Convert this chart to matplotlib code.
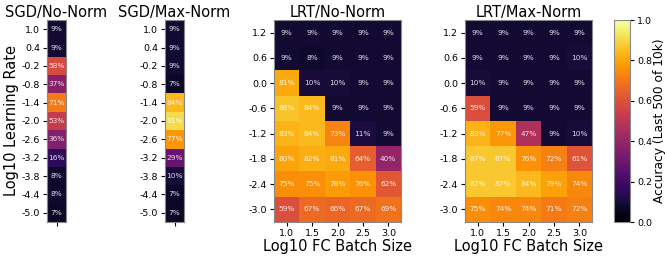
import numpy as np
import matplotlib
matplotlib.use("Agg")
from matplotlib import pyplot as plt

sgd_lr = [1.0, 0.4, -0.2, -0.8, -1.4, -2.0, -2.6, -3.2, -3.8, -4.4, -5.0]
sgd_no_norm = [9, 9, 58, 37, 71, 53, 36, 16, 8, 8, 7]
sgd_max_norm = [9, 9, 9, 7, 84, 91, 77, 29, 10, 7, 7]

lrt_lr = [1.2, 0.6, 0.0, -0.6, -1.2, -1.8, -2.4, -3.0]
batch = [1.0, 1.5, 2.0, 2.5, 3.0]
lrt_no_norm = [
    [9, 9, 9, 9, 9],
    [9, 8, 9, 9, 9],
    [81, 10, 10, 9, 9],
    [86, 84, 9, 9, 9],
    [83, 84, 73, 11, 9],
    [80, 82, 81, 64, 40],
    [75, 75, 78, 76, 62],
    [59, 67, 66, 67, 69],
]
lrt_max_norm = [
    [9, 9, 9, 9, 9],
    [9, 9, 9, 9, 10],
    [10, 9, 9, 9, 9],
    [59, 9, 9, 9, 9],
    [83, 77, 47, 9, 10],
    [87, 87, 76, 72, 61],
    [87, 87, 84, 79, 74],
    [75, 74, 74, 71, 72],
]

W, H = 665, 258
fig = plt.figure(figsize=(W / 100, H / 100), dpi=100)


def ax_at(x0, x1, y0, y1):
    return fig.add_axes([x0 / W, 1 - y1 / H, (x1 - x0) / W, (y1 - y0) / H])


def heat(ax, data, rows, cols, title):
    data = np.array(data, dtype=float)
    im = ax.imshow(data / 100.0, cmap="inferno", vmin=0, vmax=1, aspect="auto")
    for i in range(data.shape[0]):
        for j in range(data.shape[1]):
            ax.text(j, i, "%d%%" % data[i, j], ha="center", va="center",
                    color="white", alpha=0.85, fontsize=5.3)
    ax.set_yticks(range(len(rows)))
    ax.set_yticklabels(["%.1f" % r for r in rows], fontsize=6.8)
    ax.set_xticks(range(len(cols)))
    ax.set_xticklabels(["%.1f" % c for c in cols] if cols[0] is not None else [""] * len(cols),
                       fontsize=6.8)
    ax.tick_params(length=3, pad=2)
    ax.set_title(title, fontsize=10.5, pad=1)
    for s in ax.spines.values():
        s.set_edgecolor("#888888")
    return im


ax1 = ax_at(47, 66, 20, 222)
heat(ax1, np.array(sgd_no_norm)[:, None], sgd_lr, [None], "SGD/No-Norm")
ax1.set_ylabel("Log10 Learning Rate", fontsize=10.5, labelpad=2)

ax2 = ax_at(165, 184, 20, 222)
heat(ax2, np.array(sgd_max_norm)[:, None], sgd_lr, [None], "SGD/Max-Norm")

ax3 = ax_at(274, 401, 20, 222)
heat(ax3, lrt_no_norm, lrt_lr, batch, "LRT/No-Norm")
ax3.set_xlabel("Log10 FC Batch Size", fontsize=10.5, labelpad=1)

ax4 = ax_at(465, 592, 20, 222)
im = heat(ax4, lrt_max_norm, lrt_lr, batch, "LRT/Max-Norm")
ax4.set_xlabel("Log10 FC Batch Size", fontsize=10.5, labelpad=1)

cax = ax_at(614, 630, 20, 222)
cb = fig.colorbar(im, cax=cax)
cb.set_ticks([0.0, 0.2, 0.4, 0.6, 0.8, 1.0])
cb.ax.tick_params(labelsize=6.8, length=3, pad=2)
cb.set_label("Accuracy (Last 500 of 10k)", fontsize=8.8, labelpad=1)
cb.outline.set_edgecolor("#888888")

fig.savefig("out.png", dpi=100)
